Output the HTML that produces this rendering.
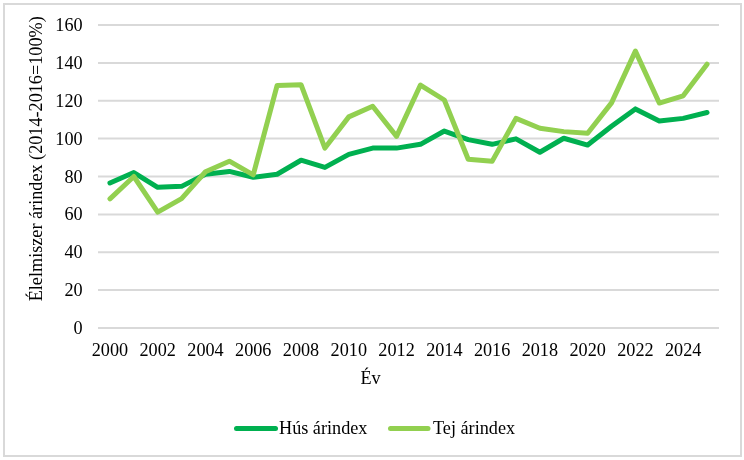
<!DOCTYPE html>
<html><head><meta charset="utf-8"><style>
html,body{margin:0;padding:0;background:#fff;}
svg{display:block;will-change:transform;}
text{font-family:"Liberation Serif",serif;font-size:18.2px;fill:#000;}
</style></head><body>
<svg width="744" height="460" viewBox="0 0 744 460">
<rect x="0" y="0" width="744" height="460" fill="#fff"/>
<rect x="4" y="4" width="737" height="452" fill="none" stroke="#D9D9D9" stroke-width="2"/>
<g stroke="#D9D9D9" stroke-width="2"><line x1="98" x2="719" y1="328.00" y2="328.00"/><line x1="98" x2="719" y1="290.12" y2="290.12"/><line x1="98" x2="719" y1="252.25" y2="252.25"/><line x1="98" x2="719" y1="214.38" y2="214.38"/><line x1="98" x2="719" y1="176.50" y2="176.50"/><line x1="98" x2="719" y1="138.62" y2="138.62"/><line x1="98" x2="719" y1="100.75" y2="100.75"/><line x1="98" x2="719" y1="62.88" y2="62.88"/><line x1="98" x2="719" y1="25.00" y2="25.00"/></g>
<g text-anchor="end"><text x="82.6" y="334.00">0</text><text x="82.6" y="296.12">20</text><text x="82.6" y="258.25">40</text><text x="82.6" y="220.38">60</text><text x="82.6" y="182.50">80</text><text x="82.6" y="144.62">100</text><text x="82.6" y="106.75">120</text><text x="82.6" y="68.88">140</text><text x="82.6" y="31.00">160</text></g>
<g text-anchor="middle"><text x="109.94" y="355.6">2000</text><text x="157.71" y="355.6">2002</text><text x="205.48" y="355.6">2004</text><text x="253.25" y="355.6">2006</text><text x="301.02" y="355.6">2008</text><text x="348.79" y="355.6">2010</text><text x="396.56" y="355.6">2012</text><text x="444.33" y="355.6">2014</text><text x="492.10" y="355.6">2016</text><text x="539.87" y="355.6">2018</text><text x="587.63" y="355.6">2020</text><text x="635.40" y="355.6">2022</text><text x="683.17" y="355.6">2024</text></g>
<text x="370.5" y="383.7" text-anchor="middle">Év</text>
<text transform="translate(42,158.8) rotate(-90)" text-anchor="middle">Élelmiszer árindex (2014-2016=100%)</text>
<polyline fill="none" stroke="#00B050" stroke-width="5" stroke-linejoin="round" stroke-linecap="round" points="109.94,182.95 133.83,172.53 157.71,187.30 181.60,186.36 205.48,174.24 229.37,171.40 253.25,177.27 277.13,174.24 301.02,160.22 324.90,167.42 348.79,154.35 372.67,148.10 396.56,148.10 420.44,144.32 444.33,131.06 468.21,139.58 492.10,144.32 515.98,138.82 539.87,152.27 563.75,138.26 587.63,145.07 611.52,126.33 635.40,108.90 659.29,121.02 683.17,118.37 707.06,112.50"/>
<polyline fill="none" stroke="#92D050" stroke-width="5" stroke-linejoin="round" stroke-linecap="round" points="109.94,198.86 133.83,176.51 157.71,212.11 181.60,198.67 205.48,171.78 229.37,161.17 253.25,174.81 277.13,85.42 301.02,84.66 324.90,148.10 348.79,116.86 372.67,106.25 396.56,136.36 420.44,85.04 444.33,100.00 468.21,159.28 492.10,161.36 515.98,118.37 539.87,128.22 563.75,131.63 587.63,133.33 611.52,102.84 635.40,51.14 659.29,103.03 683.17,95.84 707.06,64.21"/>
<line x1="236.5" x2="275.5" y1="428.5" y2="428.5" stroke="#00B050" stroke-width="5" stroke-linecap="round"/>
<text x="279" y="433.7">Hús árindex</text>
<line x1="390.5" x2="428" y1="428.5" y2="428.5" stroke="#92D050" stroke-width="5" stroke-linecap="round"/>
<text x="433" y="433.7">Tej árindex</text>
</svg>
</body></html>
